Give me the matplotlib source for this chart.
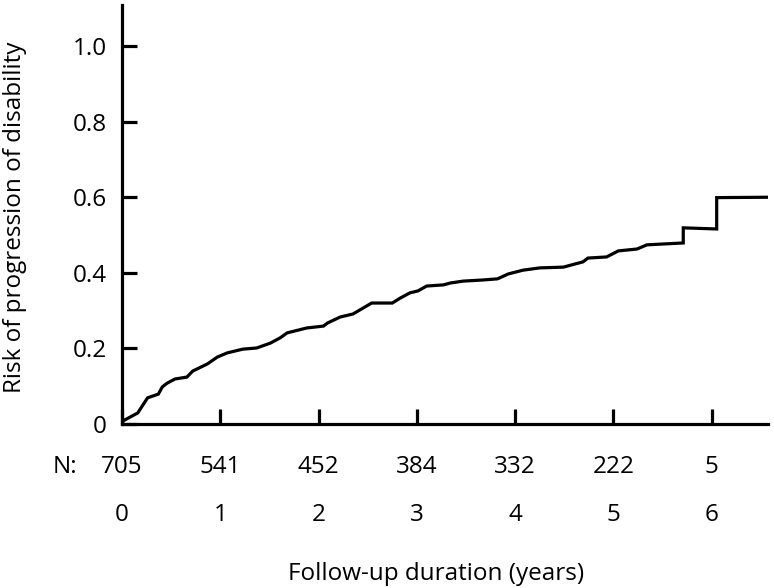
import matplotlib
matplotlib.use("Agg")
import matplotlib.pyplot as plt
import matplotlib.transforms as mtransforms

# Cumulative risk curve (years, risk)
years = [0.0, 0.01, 0.16, 0.26, 0.37, 0.41, 0.46, 0.54, 0.66, 0.72, 0.87,
         0.97, 1.07, 1.23, 1.37, 1.51, 1.61, 1.68, 1.88, 2.05, 2.09, 2.22,
         2.35, 2.54, 2.75, 2.83, 2.93, 3.01, 3.10, 3.27, 3.34, 3.47, 3.67,
         3.82, 3.93, 4.08, 4.25, 4.49, 4.69, 4.74, 4.93, 5.05, 5.24, 5.34,
         5.71, 5.71, 6.05, 6.05, 6.57]
risk = [0.0, 0.008, 0.029, 0.069, 0.079, 0.098, 0.108, 0.119, 0.124, 0.140,
        0.159, 0.177, 0.188, 0.198, 0.201, 0.214, 0.228, 0.241, 0.254, 0.259,
        0.267, 0.283, 0.291, 0.320, 0.320, 0.333, 0.347, 0.352, 0.365, 0.368,
        0.373, 0.378, 0.381, 0.384, 0.397, 0.407, 0.413, 0.415, 0.429, 0.439,
        0.442, 0.458, 0.463, 0.474, 0.479, 0.519, 0.516, 0.599, 0.600]

tick_years = [0, 1, 2, 3, 4, 5, 6]
at_risk = [705, 541, 452, 384, 332, 222, 5]
y_ticks = [0, 0.2, 0.4, 0.6, 0.8, 1.0]
y_labels = ["0", "0.2", "0.4", "0.6", "0.8", "1.0"]

plt.rcParams["font.family"] = ["Open Sans", "DejaVu Sans"]
FS = 17.5

fig = plt.figure(figsize=(7.74, 5.88), dpi=100)
ax = fig.add_axes([0.1576, 0.279, 0.8344, 0.712])

ax.plot(years, risk, color="black", lw=2.3, solid_joinstyle="miter")

ax.set_xlim(0, 6.57)
ax.set_ylim(0, 1.108)
for side in ("top", "right"):
    ax.spines[side].set_visible(False)
for side in ("left", "bottom"):
    ax.spines[side].set_linewidth(2.3)

ax.set_yticks(y_ticks)
ax.set_yticklabels(y_labels, fontsize=FS)
ax.set_xticks(tick_years)
ax.set_xticklabels([])
ax.tick_params(axis="both", direction="in", length=11, width=2.3)
ax.tick_params(axis="y", pad=11)

trans = mtransforms.blended_transform_factory(ax.transData, ax.transAxes)
ax.text(-0.58, -0.1026, "N:", transform=trans, ha="center", va="center",
        fontsize=FS, clip_on=False)
for t, n in zip(tick_years, at_risk):
    ax.text(t, -0.1026, str(n), transform=trans, ha="center", va="center",
            fontsize=FS, clip_on=False)
    ax.text(t, -0.217, str(t), transform=trans, ha="center", va="center",
            fontsize=FS, clip_on=False)

fig.text(436 / 774, 1 - 574 / 588, "Follow-up duration (years)",
         ha="center", va="center", fontsize=FS)
fig.text(15 / 774, 1 - 217 / 588, "Risk of progression of disability",
         ha="center", va="center", rotation=90, fontsize=FS)

fig.savefig("out.png", dpi=100)
plt.close(fig)
